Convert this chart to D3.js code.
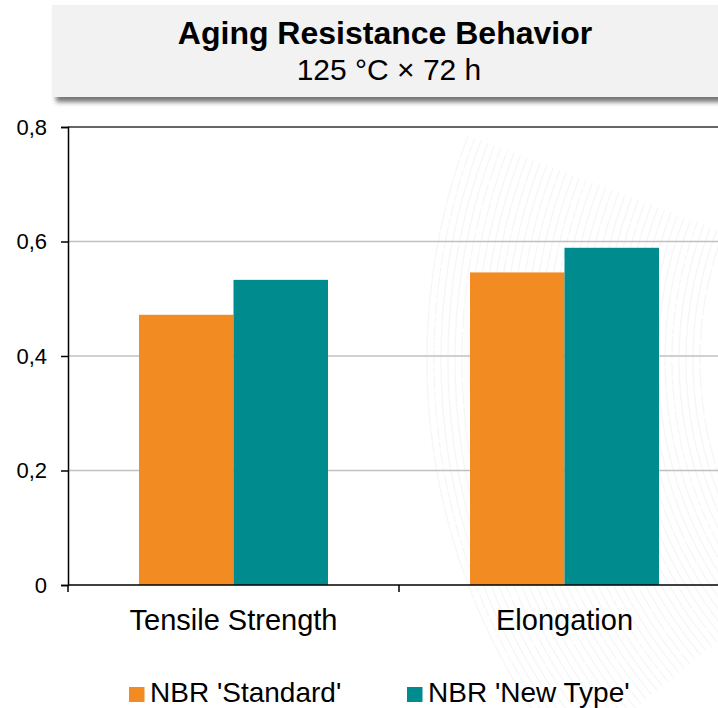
<!DOCTYPE html>
<html>
<head>
<meta charset="utf-8">
<script src="https://cdn.jsdelivr.net/npm/d3@7/dist/d3.min.js"></script>
<style>
  html, body { margin: 0; padding: 0; background: #ffffff; }
  svg { display: block; font-family: Arial, "Liberation Sans", sans-serif; }
</style>
</head>
<body>
<svg id="chart" width="718" height="708"></svg>
<script>
// Aging test results: ratio after ageing at 125 °C for 72 h
const categories = ["Tensile Strength", "Elongation"];
const seriesNames = ["NBR 'Standard'", "NBR 'New Type'"];
const standardValues = [0.472, 0.546];
const newTypeValues = [0.533, 0.589];
const yTicks = [0, 0.2, 0.4, 0.6, 0.8];
const yTickLabels = ["0", "0,2", "0,4", "0,6", "0,8"];
const colors = ["#F28C22", "#008B8F"];

const svg = d3.select("#chart");
const W = 718, H = 708;

// faint grain texture on the right side of the page
const defs = svg.append("defs");
const tex = svg.append("g").attr("fill", "none").attr("stroke", "#f1f1f1").attr("stroke-width", 1.4).attr("opacity", 0.6)
  .attr("stroke-dasharray", "14 3 6 2");
for (let i = 0; i < 40; i++) {
  const r = 360 + i * 7;
  tex.append("path")
    .attr("d", d3.arc()({ innerRadius: r, outerRadius: r, startAngle: -0.6, endAngle: 0.45 }))
    .attr("transform", "translate(1060,360) rotate(-95)");
}

// title panel with drop shadow
const shadow = defs.append("filter").attr("id", "shadow").attr("x", "-10%").attr("y", "-20%").attr("width", "130%").attr("height", "160%");
shadow.append("feGaussianBlur").attr("in", "SourceAlpha").attr("stdDeviation", 2.5);
shadow.append("feOffset").attr("dx", 4).attr("dy", 5).attr("result", "ob");
shadow.append("feComponentTransfer").append("feFuncA").attr("type", "linear").attr("slope", 0.55);
const mrg = shadow.append("feMerge");
mrg.append("feMergeNode");
mrg.append("feMergeNode").attr("in", "SourceGraphic");

svg.append("rect")
  .attr("x", 52).attr("y", 5).attr("width", 700).attr("height", 92)
  .attr("fill", "#f2f2f2").attr("filter", "url(#shadow)");

svg.append("text")
  .attr("x", 385).attr("y", 44).attr("text-anchor", "middle")
  .attr("font-size", 32).attr("font-weight", "bold").attr("fill", "#000")
  .text("Aging Resistance Behavior");
svg.append("text")
  .attr("x", 389).attr("y", 80).attr("text-anchor", "middle")
  .attr("font-size", 30).attr("fill", "#000")
  .text("125 °C × 72 h");

// plot area
const plotLeft = 68, plotTop = 127, plotBottom = 585, plotRight = 730;

const y = d3.scaleLinear().domain([0, 0.8]).range([plotBottom, plotTop]);
const x0 = d3.scaleBand().domain(categories).range([plotLeft, plotRight]).padding(0);
const bw = x0.bandwidth();
const x1 = d3.scaleBand().domain(seriesNames).range([bw * 0.2145, bw * 0.7855]).padding(0);

// horizontal gridlines
svg.append("g").selectAll("line")
  .data(yTicks.filter(v => v > 0 && v < 0.8))
  .join("line")
  .attr("x1", plotLeft).attr("x2", W)
  .attr("y1", d => y(d)).attr("y2", d => y(d))
  .attr("stroke", "#c0c0c0").attr("stroke-width", 1.3);

// top frame line
svg.append("line")
  .attr("x1", plotLeft).attr("x2", W).attr("y1", y(0.8)).attr("y2", y(0.8))
  .attr("stroke", "#333").attr("stroke-width", 1.5);

// bars
const rows = categories.map((c, i) => ({ cat: c, vals: [standardValues[i], newTypeValues[i]] }));
svg.append("g").selectAll("g")
  .data(rows)
  .join("g")
  .attr("transform", d => `translate(${x0(d.cat)},0)`)
  .selectAll("rect")
  .data(d => d.vals.map((v, j) => ({ name: seriesNames[j], v, j })))
  .join("rect")
  .attr("x", d => x1(d.name))
  .attr("width", x1.bandwidth())
  .attr("y", d => y(d.v))
  .attr("height", d => y(0) - y(d.v))
  .attr("fill", d => colors[d.j]);

// y axis
const yAxis = d3.axisLeft(y).tickValues(yTicks).tickSize(7).tickPadding(14)
  .tickFormat((d, i) => yTickLabels[i]);
const gy = svg.append("g").attr("transform", `translate(${plotLeft},0)`).call(yAxis);
gy.select(".domain").attr("stroke", "#000").attr("stroke-width", 1.5);
gy.selectAll(".tick line").attr("stroke", "#000").attr("stroke-width", 1.5);
gy.selectAll(".tick text").attr("font-size", 22).attr("fill", "#000")
  .attr("font-family", "Arial, 'Liberation Sans', sans-serif");

// x axis: ticks at category boundaries
svg.append("line")
  .attr("x1", plotLeft).attr("x2", plotRight).attr("y1", plotBottom).attr("y2", plotBottom)
  .attr("stroke", "#000").attr("stroke-width", 1.5);
const boundaries = categories.map(c => x0(c)).concat([plotRight]);
svg.append("g").selectAll("line")
  .data(boundaries)
  .join("line")
  .attr("x1", d => d).attr("x2", d => d)
  .attr("y1", plotBottom).attr("y2", plotBottom + 7)
  .attr("stroke", "#000").attr("stroke-width", 1.5);
svg.append("g").selectAll("text")
  .data(categories)
  .join("text")
  .attr("x", d => x0(d) + bw / 2)
  .attr("y", 630)
  .attr("text-anchor", "middle")
  .attr("font-size", 29).attr("fill", "#000")
  .text(d => d);

// legend
const legendX = [129, 407];
const lg = svg.append("g").selectAll("g")
  .data(seriesNames)
  .join("g")
  .attr("transform", (d, i) => `translate(${legendX[i]},0)`);
lg.append("rect").attr("x", 0).attr("y", 687).attr("width", 15.5).attr("height", 15)
  .attr("fill", (d, i) => colors[i]);
lg.append("text").attr("x", 21).attr("y", 702)
  .attr("font-size", 28).attr("fill", "#000")
  .text(d => d);
</script>
</body>
</html>
